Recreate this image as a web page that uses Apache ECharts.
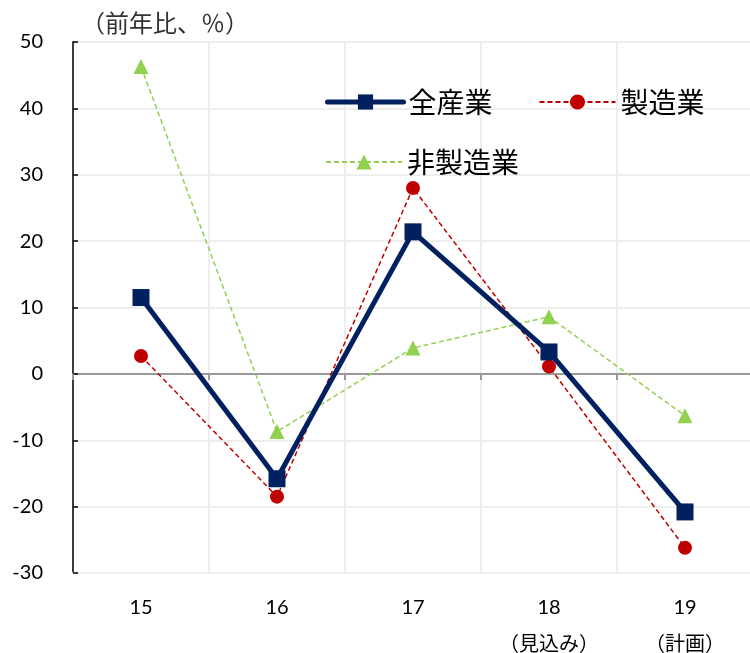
<!DOCTYPE html>
<html>
<head>
<meta charset="utf-8">
<script src="https://cdn.jsdelivr.net/npm/echarts@6/dist/echarts.min.js"></script>
<style>
  html, body { margin: 0; padding: 0; background: #fff; }
  #chart { width: 750px; height: 653px; }
</style>
</head>
<body>
<div id="chart"></div>
<script>
const categories = ["15", "16", "17", "18\n（見込み）", "19\n（計画）"];
const allIndustry = [11.5, -15.8, 21.4, 3.3, -20.8];
const manufacturing = [2.7, -18.5, 28.0, 1.1, -26.2];
const nonManufacturing = [46.3, -8.7, 3.9, 8.6, -6.3];
const yTicks = { min: -30, max: 50, interval: 10 };

const FONT = "Lato, 'Noto Sans CJK JP', sans-serif";
const CJK = "'Noto Sans CJK JP', sans-serif";
const NAVY = "#002060";
const RED = "#c00000";
const GREEN = "#92d050";

const chart = echarts.init(document.getElementById("chart"));

chart.setOption({
  animation: false,
  title: {
    text: "（前年比、％）",
    left: 76,
    top: 6,
    textStyle: { fontFamily: CJK, fontSize: 24, fontWeight: "normal", color: "#333" },
  },
  legend: [
    {
      data: [
        { name: "全産業", lineStyle: { width: 5 } },
        { name: "製造業" },
      ],
      left: 320,
      top: 83,
      itemWidth: 76,
      itemHeight: 19,
      itemGap: 46,
      textStyle: { fontFamily: CJK, fontSize: 28, color: "#000" },
    },
    {
      data: ["非製造業"],
      left: 320,
      top: 143,
      itemWidth: 76,
      itemHeight: 19,
      textStyle: { fontFamily: CJK, fontSize: 28, color: "#000" },
    },
  ],
  grid: { left: 73, top: 42, bottom: 80, width: 680, outerBoundsMode: "none", containLabel: false },
  xAxis: [
    {
      type: "category",
      data: categories,
      position: "top",
      axisLine: { onZero: true, lineStyle: { color: "#999", width: 2 } },
      axisTick: { show: true, inside: true, length: 6, lineStyle: { color: "#999", width: 2 } },
      axisLabel: { show: false },
      splitLine: { show: true, lineStyle: { color: "#eeeeee", width: 2 } },
    },
    {
      type: "category",
      data: categories,
      position: "bottom",
      axisLine: { onZero: false, show: true, lineStyle: { color: "#eeeeee", width: 2 } },
      axisTick: { show: false },
      axisLabel: {
        fontFamily: FONT,
        fontSize: 20,
        color: "#000",
        lineHeight: 37,
        margin: 16,
      },
    },
  ],
  yAxis: {
    type: "value",
    min: yTicks.min,
    max: yTicks.max,
    interval: yTicks.interval,
    axisLine: { show: true, onZero: false, lineStyle: { color: "#000", width: 1.5 } },
    axisTick: { show: true, inside: true, length: 5, lineStyle: { color: "#000", width: 1.5 } },
    axisLabel: { fontFamily: FONT, fontSize: 20, color: "#000", margin: 30 },
    splitLine: { show: true, lineStyle: { color: "#eeeeee", width: 2 } },
  },
  series: [
    {
      name: "非製造業",
      type: "line",
      data: nonManufacturing,
      symbol: "triangle",
      symbolSize: 15,
      itemStyle: { color: GREEN },
      lineStyle: { color: GREEN, width: 1.5, type: [5, 3] },
      z: 2,
    },
    {
      name: "製造業",
      type: "line",
      data: manufacturing,
      symbol: "circle",
      symbolSize: 14,
      itemStyle: { color: RED },
      lineStyle: { color: RED, width: 1.5, type: [5, 3] },
      z: 3,
    },
    {
      name: "全産業",
      type: "line",
      data: allIndustry,
      symbol: "rect",
      symbolSize: 17,
      itemStyle: { color: NAVY },
      lineStyle: { color: NAVY, width: 5, cap: "round" },
      z: 4,
    },
  ],
});
</script>
</body>
</html>
